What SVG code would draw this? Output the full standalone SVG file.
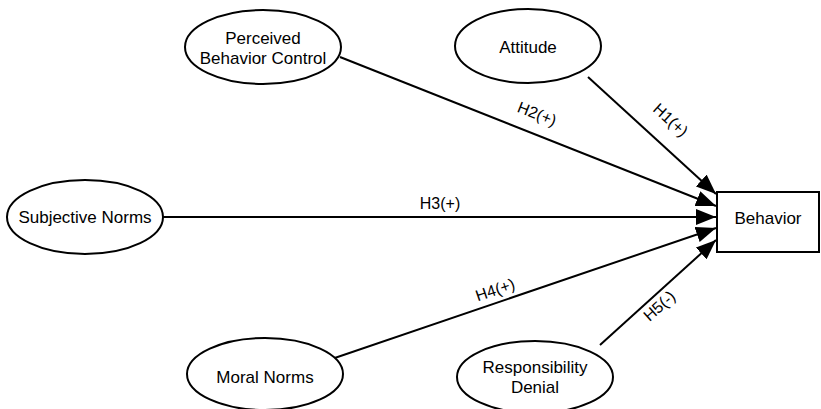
<svg xmlns="http://www.w3.org/2000/svg" width="821" height="409" viewBox="0 0 821 409">
<style>
.n{fill:#fff;stroke:#000;stroke-width:2}
.t{font-family:"Liberation Sans",Arial,sans-serif;font-size:17px;fill:#000;text-anchor:middle}
.l{font-family:"Liberation Sans",Arial,sans-serif;font-size:16px;fill:#000;text-anchor:middle}
.c{stroke:#000;stroke-width:2;fill:none;marker-end:url(#a)}
</style>
<defs>
<marker id="a" viewBox="0 0 10 8" refX="10" refY="4" markerWidth="10" markerHeight="8" markerUnits="strokeWidth" orient="auto">
<path d="M0,0 L10,4 L0,8 z" fill="#000"/>
</marker>
</defs>
<rect width="821" height="409" fill="#fff"/>
<g id="connectors">
<line class="c" x1="588" y1="77" x2="716" y2="194"/>
<line class="c" x1="340" y1="57" x2="716" y2="206"/>
<line class="c" x1="163" y1="217" x2="716" y2="217"/>
<line class="c" x1="320" y1="363" x2="716" y2="228"/>
<line class="c" x1="600" y1="345" x2="716" y2="240"/>
<text class="l" transform="translate(535,119) rotate(21.6)">H2(+)</text>
<text class="l" transform="translate(667,124) rotate(42.4)">H1(+)</text>
<text class="l" x="440" y="209">H3(+)</text>
<text class="l" transform="translate(497,295) rotate(-18.8)">H4(+)</text>
<text class="l" transform="translate(663,310) rotate(-41.7)">H5(-)</text>
</g>
<g id="pbc">
<ellipse class="n" cx="263" cy="47" rx="78" ry="37"/>
<text class="t" x="263" y="44">Perceived</text>
<text class="t" x="263" y="64">Behavior Control</text>
</g>
<g id="attitude">
<ellipse class="n" cx="528" cy="46" rx="73" ry="37"/>
<text class="t" x="528" y="53">Attitude</text>
</g>
<g id="subjective">
<ellipse class="n" cx="85" cy="217" rx="78" ry="37"/>
<text class="t" x="85" y="223">Subjective Norms</text>
</g>
<g id="moral">
<ellipse class="n" cx="265" cy="374" rx="78" ry="36"/>
<text class="t" x="265" y="383">Moral Norms</text>
</g>
<g id="responsibility">
<ellipse class="n" cx="535" cy="377" rx="78" ry="36"/>
<text class="t" x="535" y="373">Responsibility</text>
<text class="t" x="535" y="393">Denial</text>
</g>
<g id="behavior">
<rect class="n" x="717" y="192" width="102" height="60"/>
<text class="t" x="768" y="224">Behavior</text>
</g>
</svg>
